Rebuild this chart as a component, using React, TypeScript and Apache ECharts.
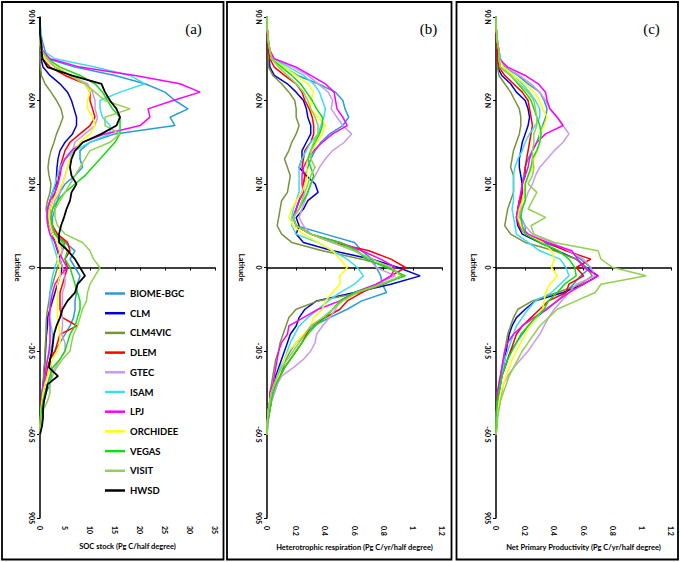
import React, { useEffect, useRef } from "react";
import * as echarts from "echarts";

// Latitude grid (degrees, north positive)
const LAT = [
  90, 87, 84, 81, 78, 75, 72, 69, 66, 63,
  60, 57, 54, 51, 48, 45, 42, 39, 36, 33,
  30, 27, 24, 21, 18, 15, 12, 9, 6, 3,
  0, -3, -6, -9, -12, -15, -18, -21, -24, -27,
  -30, -33, -36, -39, -42, -45, -48, -51, -54, -57,
  -60,
];

const MODELS = ["BIOME-BGC", "CLM", "CLM4VIC", "DLEM", "GTEC", "ISAM", "LPJ", "ORCHIDEE", "VEGAS", "VISIT", "HWSD"];
const COLORS = ["#2A9BDA", "#0000D0", "#77933C", "#FF0000", "#C99BEA", "#3BDDF2", "#FF00FF", "#FFFF00", "#11DD11", "#92D050", "#000000"];

const Y_TICKS = [90, 60, 30, 0, -30, -60, -90];
const Y_TICK_LABELS = ["90 N", "60 N", "30 N", "0", "-30 S", "-60 S", "90S"];

// (a) SOC stock (Pg C / half degree)
const SOC_BIOME = [0, 0, 0.2, 0.5, 1, 1.5, 7, 15, 21, 25, 27, 29.6, 26, 27, 15, 10, 8, 8, 8.5, 7, 5, 4, 3.5, 3, 2.5, 2.5, 3, 5, 7, 6, 7, 8, 7.5, 7.3, 7, 7, 6.7, 6, 5, 4, 3, 2, 2.2, 2.3, 2, 1.2, 0.8, 0.5, 0.4, 0.2, 0];
const SOC_CLM = [0, 0, 0, 0, 0, 0.2, 0.6, 2, 4, 5.5, 6.3, 6.8, 7.3, 7.3, 6.5, 5, 4, 3.6, 3.4, 3.3, 3.2, 2.5, 2, 1.5, 1.5, 2, 2.5, 3, 3.5, 4, 4.5, 4, 3.5, 3, 2.5, 2, 1.5, 1.5, 1.3, 1.2, 1.1, 1, 0.9, 0.8, 0.6, 0.4, 0.3, 0.2, 0.1, 0, 0];
const SOC_CLM4VIC = [0, 0, 0, 0, 0, 0, 0.1, 0.3, 1, 2.2, 3.3, 4.2, 4.6, 4, 3.3, 2.8, 2.2, 1.8, 1.6, 1.8, 2.2, 2, 1.5, 1.2, 1.5, 2, 3, 5, 4.5, 4, 3.5, 3, 2.5, 2, 1.8, 1.5, 1.3, 1.2, 1.2, 1.1, 1, 1, 0.8, 0.7, 0.6, 0.5, 0.3, 0.2, 0.1, 0, 0];
const SOC_DLEM = [0, 0, 0, 0, 0.2, 0.5, 2, 5, 9, 10, 10, 10.5, 11, 10, 8, 6, 5, 4.5, 4, 3.8, 3.5, 3, 2.5, 2, 2, 2.5, 3.5, 5.5, 6, 5, 5.5, 5, 4.5, 4, 4, 4, 4.5, 7.4, 4, 3.5, 3, 2, 1.5, 1.2, 1, 0.5, 0.3, 0.2, 0.1, 0, 0];
const SOC_GTEC = [0, 0, 0, 0, 0.2, 1, 3, 6, 9.5, 10.5, 11, 11, 11.5, 11, 9, 7, 6.5, 6, 5.5, 5, 4.5, 4, 3, 2.5, 2, 2.2, 3, 4, 4.5, 4, 4.5, 5, 5, 4.5, 4.5, 4.3, 4.5, 4.5, 4.3, 5, 5, 4, 3, 2, 1.5, 1, 0.6, 0.3, 0.2, 0.1, 0];
const SOC_ISAM = [0, 0.1, 0.2, 0.3, 0.5, 3, 11, 18, 21, 16, 12, 12, 12.5, 14, 14, 10, 7, 5, 4, 3.5, 3, 2.5, 2, 1.5, 1.3, 1.5, 2, 2.5, 3, 3.5, 3, 2.5, 2.2, 2, 2, 2, 2, 2.2, 2.5, 2.5, 2, 1.5, 1.2, 1, 0.8, 0.5, 0.4, 0.3, 0.2, 0.1, 0];
const SOC_LPJ = [0, 0, 0, 0.3, 0.5, 2, 8, 19, 28, 32, 26.6, 21.6, 22, 20, 13, 8.5, 6.3, 5, 4.3, 4, 3.6, 3, 2, 1.5, 1.4, 1.6, 2, 3, 3.6, 4.5, 5.4, 4, 3, 2.5, 2.2, 2, 1.8, 2, 2, 2, 1.8, 1.5, 1.2, 1, 0.7, 0.5, 0.3, 0.2, 0.1, 0, 0];
const SOC_ORCHIDEE = [0, 0, 0, 0, 0.2, 1, 3.5, 6, 9, 10, 9.5, 9.5, 10.5, 11, 10, 8, 7, 6, 5.5, 5, 4.5, 3.5, 2.5, 2, 1.8, 2, 2.5, 3.5, 4, 3.5, 4, 4, 3.5, 3.5, 3.5, 3.5, 3.5, 3.8, 4, 4, 3.5, 2.5, 2, 1.5, 1, 0.6, 0.4, 0.2, 0.1, 0, 0];
const SOC_VEGAS = [0, 0, 0, 0, 0.3, 1.5, 4, 8, 11, 12.5, 13.5, 14.5, 16, 16, 16, 15, 13.5, 12, 10.5, 9, 7, 5, 3.5, 2.5, 2.2, 2.5, 3, 4.5, 5.5, 5, 6, 6.5, 7, 7.5, 8, 8, 7.5, 7, 6, 5.5, 5, 4, 2.5, 2, 1.5, 1, 0.6, 0.3, 0.2, 0.1, 0];
const SOC_VISIT = [0, 0, 0, 0, 0.3, 1.5, 3, 6, 9, 11, 13, 18, 13, 13, 16, 14, 10, 9, 8, 7, 6, 5, 4, 3, 3, 3.5, 5, 8.5, 10, 10.7, 12, 11, 10, 9.5, 9.3, 8.5, 8, 7.5, 6.7, 6.3, 6, 4.5, 3.3, 2.5, 2, 2, 1.5, 0.7, 0.4, 0.2, 0];
const SOC_HWSD = [0, 0, 0, 0.2, 0.3, 0.5, 1.5, 6.3, 12.3, 13, 14, 15.3, 16, 15.3, 12.3, 8.6, 7, 6.3, 6, 6.3, 7.3, 6.3, 6, 5.3, 4.8, 4.2, 3.8, 3.8, 5.6, 7, 8, 9, 7.5, 7, 5.5, 4.5, 4, 3.3, 2.8, 2.6, 2.4, 2, 1.8, 3.6, 1.5, 1.2, 0.8, 0.6, 0.6, 0.4, 0];

// (b) Heterotrophic respiration (Pg C / yr / half degree)
const RH_BIOME = [0, 0, 0.005, 0.01, 0.02, 0.04, 0.12, 0.21, 0.35, 0.47, 0.52, 0.535, 0.56, 0.52, 0.43, 0.37, 0.33, 0.3, 0.28, 0.26, 0.25, 0.24, 0.22, 0.2, 0.18, 0.2, 0.4, 0.6, 0.65, 0.72, 0.75, 0.78, 0.79, 0.82, 0.65, 0.55, 0.43, 0.32, 0.26, 0.2, 0.16, 0.13, 0.11, 0.09, 0.07, 0.05, 0.03, 0.02, 0.01, 0.005, 0];
const RH_CLM = [0, 0, 0, 0.005, 0.01, 0.015, 0.02, 0.05, 0.14, 0.2, 0.25, 0.27, 0.28, 0.3, 0.3, 0.27, 0.24, 0.24, 0.22, 0.27, 0.33, 0.35, 0.28, 0.25, 0.2, 0.22, 0.2, 0.25, 0.45, 0.72, 0.9, 1.05, 0.85, 0.6, 0.34, 0.26, 0.22, 0.2, 0.16, 0.14, 0.12, 0.1, 0.08, 0.06, 0.05, 0.03, 0.02, 0.01, 0.005, 0, 0];
const RH_CLM4VIC = [0, 0, 0, 0.005, 0.01, 0.01, 0.01, 0.04, 0.1, 0.15, 0.19, 0.2, 0.2, 0.22, 0.2, 0.17, 0.15, 0.12, 0.14, 0.16, 0.15, 0.14, 0.1, 0.09, 0.08, 0.07, 0.1, 0.17, 0.38, 0.65, 0.85, 0.93, 0.8, 0.64, 0.35, 0.2, 0.15, 0.13, 0.11, 0.09, 0.08, 0.06, 0.05, 0.04, 0.03, 0.02, 0.02, 0.01, 0.01, 0, 0];
const RH_DLEM = [0, 0, 0, 0.005, 0.01, 0.02, 0.05, 0.12, 0.2, 0.24, 0.26, 0.29, 0.31, 0.32, 0.32, 0.3, 0.26, 0.25, 0.24, 0.26, 0.25, 0.25, 0.22, 0.2, 0.18, 0.2, 0.3, 0.45, 0.7, 0.85, 0.95, 0.85, 0.76, 0.65, 0.55, 0.5, 0.4, 0.3, 0.27, 0.24, 0.2, 0.16, 0.12, 0.09, 0.06, 0.04, 0.03, 0.02, 0.01, 0, 0];
const RH_GTEC = [0, 0, 0.005, 0.01, 0.02, 0.04, 0.18, 0.28, 0.35, 0.42, 0.45, 0.44, 0.48, 0.52, 0.58, 0.53, 0.45, 0.4, 0.36, 0.33, 0.3, 0.28, 0.26, 0.24, 0.22, 0.25, 0.3, 0.45, 0.6, 0.7, 0.75, 0.88, 0.75, 0.6, 0.5, 0.47, 0.43, 0.38, 0.34, 0.33, 0.3, 0.25, 0.18, 0.1, 0.07, 0.05, 0.03, 0.02, 0.01, 0.005, 0];
const RH_ISAM = [0, 0, 0.005, 0.01, 0.02, 0.04, 0.15, 0.25, 0.32, 0.36, 0.38, 0.4, 0.39, 0.37, 0.35, 0.3, 0.27, 0.24, 0.22, 0.22, 0.22, 0.22, 0.2, 0.18, 0.17, 0.17, 0.2, 0.35, 0.45, 0.55, 0.62, 0.66, 0.6, 0.5, 0.42, 0.35, 0.28, 0.22, 0.19, 0.16, 0.14, 0.12, 0.09, 0.07, 0.05, 0.03, 0.02, 0.01, 0.005, 0, 0];
const RH_LPJ = [0, 0, 0.005, 0.01, 0.02, 0.05, 0.2, 0.3, 0.4, 0.46, 0.47, 0.48, 0.52, 0.55, 0.45, 0.38, 0.32, 0.28, 0.25, 0.24, 0.24, 0.25, 0.22, 0.2, 0.18, 0.2, 0.3, 0.5, 0.65, 0.78, 0.88, 0.85, 0.75, 0.6, 0.5, 0.35, 0.25, 0.15, 0.14, 0.1, 0.08, 0.07, 0.06, 0.05, 0.04, 0.02, 0.02, 0.01, 0.005, 0, 0];
const RH_ORCHIDEE = [0, 0, 0.005, 0.01, 0.02, 0.03, 0.12, 0.2, 0.28, 0.32, 0.3, 0.3, 0.35, 0.4, 0.38, 0.34, 0.31, 0.28, 0.27, 0.28, 0.26, 0.24, 0.2, 0.17, 0.15, 0.18, 0.25, 0.35, 0.45, 0.5, 0.55, 0.5, 0.5, 0.45, 0.4, 0.38, 0.32, 0.3, 0.25, 0.2, 0.15, 0.12, 0.1, 0.08, 0.05, 0.03, 0.02, 0.01, 0.005, 0, 0];
const RH_VEGAS = [0, 0, 0.005, 0.01, 0.02, 0.03, 0.1, 0.17, 0.23, 0.27, 0.31, 0.34, 0.38, 0.38, 0.36, 0.33, 0.3, 0.28, 0.3, 0.32, 0.3, 0.28, 0.25, 0.22, 0.18, 0.2, 0.3, 0.5, 0.62, 0.68, 0.82, 0.95, 0.78, 0.6, 0.5, 0.45, 0.4, 0.33, 0.28, 0.24, 0.2, 0.16, 0.12, 0.09, 0.06, 0.04, 0.03, 0.02, 0.01, 0, 0];
const RH_VISIT = [0, 0, 0.005, 0.01, 0.02, 0.03, 0.08, 0.14, 0.2, 0.25, 0.28, 0.3, 0.33, 0.35, 0.35, 0.32, 0.3, 0.3, 0.33, 0.3, 0.28, 0.26, 0.24, 0.22, 0.18, 0.2, 0.3, 0.45, 0.6, 0.72, 0.85, 0.92, 0.78, 0.62, 0.52, 0.45, 0.38, 0.3, 0.26, 0.22, 0.18, 0.14, 0.1, 0.07, 0.05, 0.03, 0.02, 0.01, 0.005, 0, 0];

// (c) Net primary productivity (Pg C / yr / half degree)
const NPP_BIOME = [0, 0, 0.005, 0.01, 0.02, 0.03, 0.06, 0.15, 0.22, 0.3, 0.33, 0.35, 0.34, 0.32, 0.3, 0.28, 0.25, 0.22, 0.2, 0.19, 0.18, 0.18, 0.16, 0.15, 0.17, 0.2, 0.2, 0.32, 0.5, 0.58, 0.65, 0.58, 0.53, 0.48, 0.42, 0.34, 0.28, 0.22, 0.18, 0.14, 0.1, 0.08, 0.06, 0.04, 0.03, 0.02, 0.01, 0.005, 0, 0, 0];
const NPP_CLM = [0, 0, 0, 0.005, 0.01, 0.01, 0.01, 0.04, 0.1, 0.14, 0.2, 0.22, 0.23, 0.22, 0.2, 0.18, 0.17, 0.16, 0.16, 0.17, 0.18, 0.18, 0.16, 0.15, 0.14, 0.15, 0.18, 0.3, 0.42, 0.55, 0.62, 0.7, 0.6, 0.46, 0.27, 0.2, 0.14, 0.11, 0.09, 0.08, 0.07, 0.06, 0.05, 0.04, 0.03, 0.02, 0.01, 0.005, 0, 0, 0];
const NPP_CLM4VIC = [0, 0, 0, 0.005, 0.01, 0.01, 0.01, 0.02, 0.06, 0.1, 0.13, 0.16, 0.17, 0.17, 0.16, 0.14, 0.12, 0.11, 0.1, 0.12, 0.12, 0.12, 0.1, 0.08, 0.07, 0.06, 0.1, 0.2, 0.4, 0.55, 0.62, 0.66, 0.58, 0.42, 0.25, 0.15, 0.12, 0.1, 0.08, 0.07, 0.06, 0.05, 0.04, 0.03, 0.02, 0.01, 0.01, 0.005, 0, 0, 0];
const NPP_DLEM = [0, 0, 0, 0.005, 0.01, 0.01, 0.02, 0.06, 0.12, 0.18, 0.22, 0.23, 0.24, 0.25, 0.24, 0.23, 0.22, 0.21, 0.2, 0.2, 0.18, 0.18, 0.17, 0.16, 0.15, 0.16, 0.2, 0.35, 0.48, 0.65, 0.55, 0.6, 0.5, 0.48, 0.36, 0.3, 0.24, 0.18, 0.14, 0.12, 0.1, 0.08, 0.06, 0.04, 0.03, 0.02, 0.01, 0.005, 0, 0, 0];
const NPP_GTEC = [0, 0, 0.005, 0.01, 0.02, 0.03, 0.07, 0.16, 0.24, 0.3, 0.34, 0.37, 0.42, 0.46, 0.5, 0.46, 0.4, 0.35, 0.3, 0.27, 0.25, 0.22, 0.2, 0.17, 0.16, 0.2, 0.25, 0.38, 0.5, 0.6, 0.65, 0.68, 0.55, 0.5, 0.45, 0.4, 0.36, 0.33, 0.3, 0.26, 0.22, 0.17, 0.12, 0.08, 0.05, 0.04, 0.03, 0.02, 0.01, 0.005, 0];
const NPP_ISAM = [0, 0, 0.005, 0.01, 0.02, 0.03, 0.05, 0.12, 0.18, 0.23, 0.27, 0.3, 0.3, 0.27, 0.23, 0.2, 0.18, 0.15, 0.13, 0.12, 0.12, 0.12, 0.12, 0.11, 0.12, 0.13, 0.14, 0.22, 0.3, 0.44, 0.48, 0.5, 0.44, 0.38, 0.27, 0.22, 0.18, 0.14, 0.12, 0.1, 0.08, 0.06, 0.05, 0.04, 0.03, 0.02, 0.01, 0.005, 0, 0, 0];
const NPP_LPJ = [0, 0, 0.005, 0.01, 0.02, 0.02, 0.08, 0.2, 0.29, 0.34, 0.35, 0.37, 0.42, 0.46, 0.34, 0.28, 0.25, 0.23, 0.22, 0.2, 0.18, 0.17, 0.16, 0.15, 0.14, 0.16, 0.22, 0.35, 0.52, 0.56, 0.6, 0.7, 0.6, 0.5, 0.42, 0.35, 0.26, 0.18, 0.12, 0.08, 0.06, 0.05, 0.04, 0.03, 0.02, 0.01, 0.01, 0.005, 0, 0, 0];
const NPP_ORCHIDEE = [0, 0, 0.005, 0.01, 0.02, 0.02, 0.05, 0.12, 0.2, 0.26, 0.3, 0.32, 0.35, 0.33, 0.3, 0.3, 0.28, 0.26, 0.25, 0.22, 0.2, 0.2, 0.18, 0.16, 0.15, 0.17, 0.2, 0.32, 0.38, 0.4, 0.38, 0.42, 0.37, 0.34, 0.33, 0.32, 0.28, 0.23, 0.2, 0.17, 0.14, 0.11, 0.09, 0.07, 0.05, 0.03, 0.02, 0.01, 0.005, 0, 0];
const NPP_VEGAS = [0, 0, 0.005, 0.01, 0.02, 0.02, 0.03, 0.1, 0.15, 0.2, 0.24, 0.26, 0.28, 0.3, 0.31, 0.3, 0.28, 0.25, 0.24, 0.22, 0.2, 0.2, 0.2, 0.18, 0.17, 0.18, 0.2, 0.3, 0.43, 0.5, 0.54, 0.55, 0.47, 0.42, 0.36, 0.33, 0.27, 0.22, 0.17, 0.14, 0.11, 0.08, 0.06, 0.04, 0.03, 0.02, 0.01, 0.005, 0, 0, 0];
const NPP_VISIT = [0, 0, 0.005, 0.01, 0.02, 0.02, 0.03, 0.1, 0.16, 0.22, 0.26, 0.27, 0.28, 0.28, 0.26, 0.26, 0.25, 0.25, 0.26, 0.25, 0.22, 0.28, 0.25, 0.22, 0.34, 0.24, 0.26, 0.4, 0.7, 0.72, 0.8, 1.03, 0.72, 0.68, 0.55, 0.42, 0.36, 0.3, 0.26, 0.22, 0.18, 0.15, 0.12, 0.09, 0.07, 0.05, 0.03, 0.02, 0.01, 0.01, 0];

const PANEL_DATA = [
  [SOC_BIOME, SOC_CLM, SOC_CLM4VIC, SOC_DLEM, SOC_GTEC, SOC_ISAM, SOC_LPJ, SOC_ORCHIDEE, SOC_VEGAS, SOC_VISIT, SOC_HWSD],
  [RH_BIOME, RH_CLM, RH_CLM4VIC, RH_DLEM, RH_GTEC, RH_ISAM, RH_LPJ, RH_ORCHIDEE, RH_VEGAS, RH_VISIT],
  [NPP_BIOME, NPP_CLM, NPP_CLM4VIC, NPP_DLEM, NPP_GTEC, NPP_ISAM, NPP_LPJ, NPP_ORCHIDEE, NPP_VEGAS, NPP_VISIT],
];
const X_TITLES = [
  "SOC stock (Pg C/half degree)",
  "Heterotrophic respiration (Pg C/yr/half degree)",
  "Net Primary Productivity (Pg C/yr/half degree)",
];
const X_MAX = [35, 1.2, 1.2];
const X_INTERVAL = [5, 0.2, 0.2];
const PANEL_LETTERS = ["(a)", "(b)", "(c)"];

const GRID_LEFT = [40, 267, 496];
const GRID_W = 175;
const GRID_TOP = 17;
const GRID_H = 501;
const NAME_GAP_Y = [19, 22, 19];
const FRAMES = [
  { x: 2, w: 221.5 },
  { x: 227, w: 224.5 },
  { x: 456.5, w: 221.5 },
];
const LETTER_X = [193.5, 428.5, 651.5];

const FONT = "Lato";

export default function App() {
  const ref = useRef<HTMLDivElement>(null);

  useEffect(() => {
    if (!ref.current) return;
    const chart = echarts.init(ref.current, undefined, { renderer: "svg" });

    const labelStyle = { fontFamily: FONT, fontWeight: "bold" as const, fontSize: 7, color: "#000" };

    const grids = GRID_LEFT.map((l) => ({ left: l, top: GRID_TOP, width: GRID_W, height: GRID_H, containLabel: false }));

    const xAxes = [0, 1, 2].map((p) => ({
      type: "value",
      gridIndex: p,
      min: 0,
      max: X_MAX[p],
      interval: X_INTERVAL[p],
      name: X_TITLES[p],
      nameLocation: "middle",
      nameGap: 22,
      nameTextStyle: { fontFamily: FONT, fontWeight: "bold", fontSize: 7.5, color: "#000" },
      axisLine: { show: true, lineStyle: { color: "#000", width: 1.5 } },
      axisTick: { show: true, length: 3, lineStyle: { color: "#000", width: 1 } },
      axisLabel: { ...labelStyle, rotate: -90, margin: 8 },
      splitLine: { show: false },
    }));

    const yAxes = [0, 1, 2].map((p) => ({
      type: "value",
      gridIndex: p,
      min: -90,
      max: 90,
      interval: 30,
      name: "Latitude",
      nameLocation: "middle",
      nameRotate: -90,
      nameGap: NAME_GAP_Y[p],
      nameTextStyle: { fontFamily: FONT, fontWeight: "bold", fontSize: 7.5, color: "#000" },
      axisLine: { show: true, onZero: false, lineStyle: { color: "#000", width: 1.5 } },
      axisTick: { show: true, length: 3, lineStyle: { color: "#000", width: 1 } },
      axisLabel: {
        ...labelStyle,
        rotate: -90,
        margin: 5,
        formatter: (v: number) => {
          const i = Y_TICKS.indexOf(Math.round(v));
          return i >= 0 ? Y_TICK_LABELS[i] : "";
        },
      },
      splitLine: { show: false },
    }));

    const series: any[] = [];
    PANEL_DATA.forEach((arrs, p) => {
      arrs.forEach((arr, i) => {
        series.push({
          type: "line",
          name: MODELS[i],
          xAxisIndex: p,
          yAxisIndex: p,
          showSymbol: false,
          symbol: "none",
          color: COLORS[i],
          lineStyle: { width: MODELS[i] === "HWSD" ? 1.8 : 1.5, color: COLORS[i] },
          data: arr.map((v, k) => [v, LAT[k]]),
          z: 2 + i,
        });
      });
    });

    const graphic: any[] = [];
    FRAMES.forEach((f) => {
      graphic.push({
        type: "rect",
        shape: { x: f.x, y: 2, width: f.w, height: 557.5 },
        style: { fill: "none", stroke: "#000", lineWidth: 1.8 },
        silent: true,
      });
    });
    PANEL_LETTERS.forEach((t, p) => {
      graphic.push({
        type: "text",
        x: LETTER_X[p],
        y: 29,
        style: {
          text: t,
          fontFamily: "Liberation Serif",
          fontSize: 15,
          fill: "#000",
          align: "center",
          verticalAlign: "middle",
        },
        silent: true,
      });
    });

    chart.setOption({
      animation: false,
      backgroundColor: "#fff",
      grid: grids,
      xAxis: xAxes,
      yAxis: yAxes,
      legend: {
        data: MODELS,
        orient: "vertical",
        left: 105,
        top: 287.5,
        padding: 0,
        itemWidth: 20,
        itemHeight: 2.5,
        itemGap: 7.7,
        icon: "rect",
        selectedMode: false,
        textStyle: { fontFamily: FONT, fontWeight: "bold", fontSize: 9.5, color: "#000", lineHeight: 12 },
      },
      graphic,
      series,
    });

    return () => {
      chart.dispose();
    };
  }, []);

  return (
    <div
      ref={ref}
      style={{ position: "fixed", left: 0, top: 0, width: 681, height: 562, background: "#fff" }}
    />
  );
}
